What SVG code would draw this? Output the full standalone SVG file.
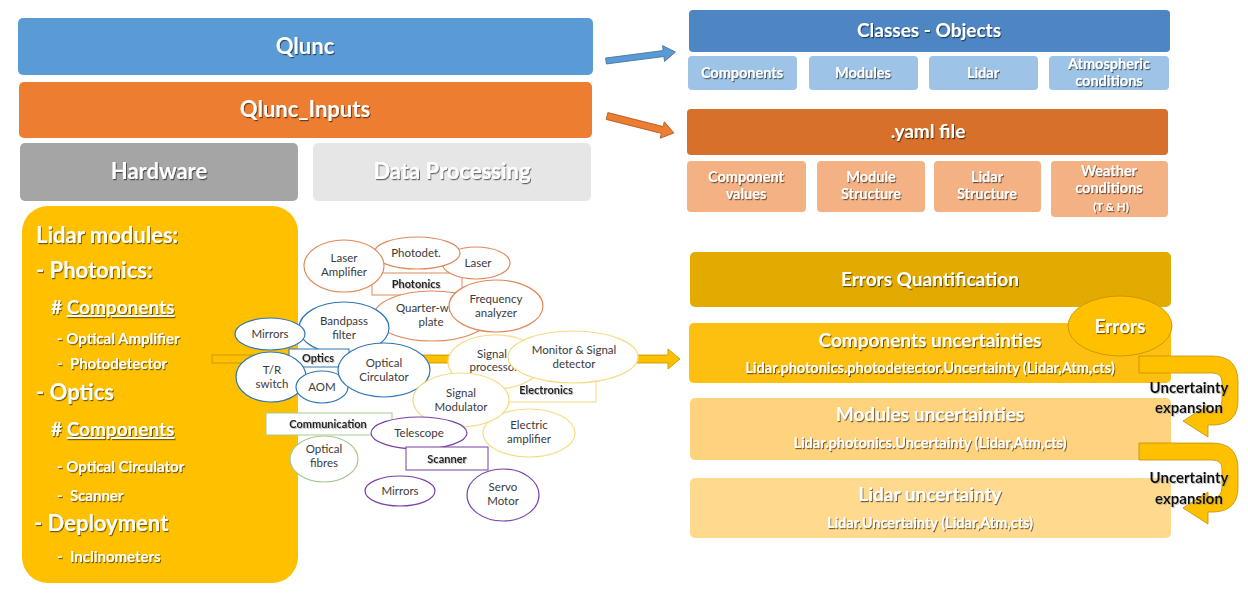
<svg xmlns="http://www.w3.org/2000/svg" width="1248" height="594" viewBox="0 0 1248 594">
  <defs>
    <filter id="ts" x="-10%" y="-30%" width="130%" height="170%">
      <feDropShadow dx="1" dy="1.2" stdDeviation="0.7" flood-color="#000" flood-opacity="0.55"/>
    </filter>
    <filter id="tsl" x="-10%" y="-30%" width="130%" height="170%">
      <feDropShadow dx="1" dy="1" stdDeviation="0.6" flood-color="#888" flood-opacity="0.5"/>
    </filter>
    <style>
      text { font-family: Lato, "Liberation Sans", sans-serif; }
      .w { fill: #fff; font-weight: 700; text-anchor: middle; filter: url(#ts); }
      .wl { fill: #fff; font-weight: 700; filter: url(#ts); }
      .big { font-size: 22px; }
      .h { font-size: 19px; }
      .s { font-size: 14.5px; }
      .m { font-size: 15px; }
      .lbl { fill: #3a3a3a; font-size: 11.5px; text-anchor: middle; }
      .grp { fill: #222; font-size: 11px; font-weight: 700; text-anchor: middle; filter: url(#tsl); }
      .el { fill: #fff; stroke-width: 1.2; }
      .ph { stroke: #E0895A; }
      .op { stroke: #2E75B6; }
      .ec { stroke: #F6DB84; }
      .cm { stroke: #A9C98E; }
      .sc { stroke: #7A3EA8; }
      .box { fill: #fff; stroke-width: 1; }
      .ux { fill: #111; font-size: 15px; font-weight: 700; text-anchor: middle; filter: url(#tsl); }
      .uturn { fill: #FFC000; stroke: #BF9000; stroke-width: 0.8; }
    </style>
  </defs>

  <rect width="1248" height="594" fill="#fff"/>

  <!-- left column banners -->
  <g id="qlunc">
    <rect x="18" y="18" width="575" height="57" rx="5" fill="#5B9BD5"/>
    <text class="w big" x="305" y="54">Qlunc</text>
  </g>
  <g id="qlunc-inputs">
    <rect x="19" y="82" width="573" height="56" rx="5" fill="#ED7D31"/>
    <text class="w big" x="305" y="117">Qlunc_Inputs</text>
  </g>
  <g id="hardware">
    <rect x="20" y="143" width="278" height="58" rx="5" fill="#A5A5A5"/>
    <text class="w big" x="159" y="179">Hardware</text>
  </g>
  <g id="data-processing">
    <rect x="313" y="143" width="278" height="58" rx="5" fill="#E7E6E6"/>
    <text class="w big" x="452" y="179">Data Processing</text>
  </g>

  <g id="lidar-modules">
    <rect x="22" y="206" width="276" height="377" rx="26" fill="#FFC000"/>
    <text class="wl big" x="36" y="243">Lidar modules:</text>
    <text class="wl big" x="36" y="278">- Photonics:</text>
    <text class="wl" x="51" y="314" font-size="19"># <tspan text-decoration="underline">Components</tspan></text>
    <text class="wl m" x="57" y="344">- Optical Amplifier</text>
    <text class="wl m" x="57" y="369" xml:space="preserve">-  Photodetector</text>
    <text class="wl big" x="36" y="400">- Optics</text>
    <text class="wl" x="51" y="436" font-size="19"># <tspan text-decoration="underline">Components</tspan></text>
    <text class="wl m" x="57" y="472">- Optical Circulator</text>
    <text class="wl m" x="57" y="501" xml:space="preserve">-  Scanner</text>
    <text class="wl big" x="34" y="531">- Deployment</text>
    <text class="wl m" x="57" y="562" xml:space="preserve">-  Inclinometers</text>
  </g>

  <!-- right column: classes and yaml -->
  <g id="classes-objects">
    <rect x="689" y="10" width="481" height="42" rx="4" fill="#4E86C3"/>
    <text class="w h" x="929" y="37">Classes - Objects</text>
  </g>
  <g id="cls-components">
    <rect x="688" y="56" width="109" height="34" rx="4" fill="#9DC3E6"/>
    <text class="w s" x="742" y="78">Components</text>
  </g>
  <g id="cls-modules">
    <rect x="809" y="56" width="109" height="34" rx="4" fill="#9DC3E6"/>
    <text class="w s" x="863" y="78">Modules</text>
  </g>
  <g id="cls-lidar">
    <rect x="929" y="56" width="109" height="34" rx="4" fill="#9DC3E6"/>
    <text class="w s" x="983" y="78">Lidar</text>
  </g>
  <g id="cls-atmospheric">
    <rect x="1049" y="56" width="120" height="34" rx="4" fill="#9DC3E6"/>
    <text class="w s" x="1109" y="69">Atmospheric</text>
    <text class="w s" x="1109" y="86">conditions</text>
  </g>

  <g id="yaml-file">
    <rect x="687" y="109" width="481" height="46" rx="4" fill="#D7702B"/>
    <text class="w h" x="928" y="138">.yaml file</text>
  </g>
  <g id="yaml-component-values">
    <rect x="687" y="161" width="119" height="51" rx="4" fill="#F4B183"/>
    <text class="w s" x="746" y="182">Component</text>
    <text class="w s" x="746" y="199">values</text>
  </g>
  <g id="yaml-module-structure">
    <rect x="817" y="161" width="108" height="51" rx="4" fill="#F4B183"/>
    <text class="w s" x="871" y="182">Module</text>
    <text class="w s" x="871" y="199">Structure</text>
  </g>
  <g id="yaml-lidar-structure">
    <rect x="934" y="161" width="107" height="51" rx="4" fill="#F4B183"/>
    <text class="w s" x="987" y="182">Lidar</text>
    <text class="w s" x="987" y="199">Structure</text>
  </g>
  <g id="yaml-weather">
    <rect x="1051" y="161" width="117" height="56" rx="4" fill="#F4B183"/>
    <text class="w s" x="1109" y="176">Weather</text>
    <text class="w s" x="1109" y="193">conditions</text>
    <text class="w" x="1111" y="211" font-size="11.5">(T &amp; H)</text>
  </g>

  <!-- right column: errors and uncertainties -->
  <g id="errors-quantification">
    <rect x="690" y="252" width="481" height="55" rx="5" fill="#E3AA00"/>
    <text class="w h" x="930" y="286">Errors Quantification</text>
  </g>
  <g id="components-uncertainties">
    <rect x="689" y="323" width="482" height="60" rx="5" fill="#FDBF10"/>
    <text class="w h" x="930" y="347">Components uncertainties</text>
    <text class="w s" x="930" y="373">Lidar.photonics.photodetector.Uncertainty (Lidar,Atm,cts)</text>
  </g>
  <g id="modules-uncertainties">
    <rect x="690" y="398" width="481" height="62" rx="5" fill="#FFD27D"/>
    <text class="w h" x="930" y="421">Modules uncertainties</text>
    <text class="w s" x="930" y="448">Lidar.photonics.Uncertainty (Lidar,Atm,cts)</text>
  </g>
  <g id="lidar-uncertainty">
    <rect x="690" y="478" width="481" height="60" rx="5" fill="#FFD98E"/>
    <text class="w h" x="930" y="501">Lidar uncertainty</text>
    <text class="w s" x="930" y="528">Lidar.Uncertainty (Lidar,Atm,cts)</text>
  </g>

  <!-- connectors -->
  <g id="connectors">
    <g transform="translate(606,61) rotate(-7.4)">
      <polygon points="0,-3 58,-3 58,-8 70,0 58,8 58,3 0,3" fill="#5B9BD5" stroke="#41719C" stroke-width="0.8"/>
    </g>
    <g transform="translate(607,116) rotate(14.2)">
      <polygon points="0,-3.5 57,-3.5 57,-8.5 69,0 57,8.5 57,3.5 0,3.5" fill="#ED7D31" stroke="#AE5A21" stroke-width="0.8"/>
    </g>
    <polygon points="212,355 668,355 668,349 680,359 668,369 668,363 212,363" fill="#FFC000" stroke="#BF9000" stroke-width="0.8"/>
    <path class="uturn" d="M1139,356 H1212 Q1238,356 1238,382 V400 Q1238,424 1214,425 H1208 V437 L1183,421 L1208,405 V411 H1213 Q1222,410 1222,400 V382 Q1222,373 1212,373 H1139 Z"/>
    <path class="uturn" d="M1139,443 H1212 Q1238,443 1238,469 V487 Q1238,511 1214,512 H1208 V524 L1183,508 L1208,492 V498 H1213 Q1222,497 1222,487 V469 Q1222,460 1212,460 H1139 Z"/>
    <text class="ux" x="1189" y="393">Uncertainty</text>
    <text class="ux" x="1189" y="413">expansion</text>
    <text class="ux" x="1189" y="483">Uncertainty</text>
    <text class="ux" x="1189" y="504">expansion</text>
  </g>

  <!-- photonics components -->
  <g id="photonics">
    <rect class="box ph" x="372" y="273" width="90" height="22"/>
    <text class="grp" x="416" y="288">Photonics</text>
  </g>
  <g id="laser">
    <ellipse class="el ph" cx="476" cy="263" rx="34" ry="16"/>
    <text class="lbl" x="478" y="267">Laser</text>
  </g>
  <g id="photodet">
    <ellipse class="el ph" cx="417" cy="253" rx="43" ry="16"/>
    <text class="lbl" x="416" y="257">Photodet.</text>
  </g>
  <g id="laser-amplifier">
    <ellipse class="el ph" cx="344" cy="266" rx="40" ry="26"/>
    <text class="lbl" x="344" y="262">Laser</text>
    <text class="lbl" x="344" y="276">Amplifier</text>
  </g>
  <g id="quarter-wave-plate">
    <ellipse class="el ph" cx="432" cy="316" rx="58" ry="25"/>
    <text class="lbl" x="431" y="312">Quarter-wave</text>
    <text class="lbl" x="431" y="326">plate</text>
  </g>
  <g id="frequency-analyzer">
    <ellipse class="el ph" cx="496" cy="306" rx="47" ry="26"/>
    <text class="lbl" x="496" y="303">Frequency</text>
    <text class="lbl" x="496" y="317">analyzer</text>
  </g>

  <!-- optics components -->
  <g id="bandpass-filter">
    <ellipse class="el op" cx="344" cy="328" rx="45" ry="26"/>
    <text class="lbl" x="344" y="325">Bandpass</text>
    <text class="lbl" x="344" y="339">filter</text>
  </g>
  <g id="optics">
    <rect class="box op" x="289" y="349" width="60" height="18"/>
    <text class="grp" x="318" y="362">Optics</text>
  </g>
  <g id="mirrors-optics">
    <ellipse class="el op" cx="270" cy="334" rx="35" ry="16"/>
    <text class="lbl" x="270" y="338">Mirrors</text>
  </g>
  <g id="tr-switch">
    <ellipse class="el op" cx="271" cy="377" rx="35" ry="25"/>
    <text class="lbl" x="272" y="374">T/R</text>
    <text class="lbl" x="272" y="388">switch</text>
  </g>
  <g id="aom">
    <ellipse class="el op" cx="322" cy="387" rx="26" ry="16"/>
    <text class="lbl" x="322" y="391">AOM</text>
  </g>
  <g id="optical-circulator">
    <ellipse class="el op" cx="384" cy="370" rx="46" ry="27"/>
    <text class="lbl" x="384" y="367">Optical</text>
    <text class="lbl" x="384" y="381">Circulator</text>
  </g>

  <!-- electronics components -->
  <g id="electronics">
    <rect class="box ec" x="478" y="377" width="118" height="25"/>
    <text class="grp" x="546" y="394">Electronics</text>
  </g>
  <g id="signal-processor">
    <ellipse class="el ec" cx="495" cy="362" rx="47" ry="27"/>
    <text class="lbl" x="492" y="358">Signal</text>
    <text class="lbl" x="494" y="371">processor</text>
  </g>
  <g id="monitor-signal-detector">
    <ellipse class="el ec" cx="573" cy="357" rx="65" ry="26"/>
    <text class="lbl" x="574" y="354">Monitor &amp; Signal</text>
    <text class="lbl" x="574" y="368">detector</text>
  </g>
  <g id="electric-amplifier">
    <ellipse class="el ec" cx="529" cy="433" rx="46" ry="24"/>
    <text class="lbl" x="529" y="429">Electric</text>
    <text class="lbl" x="529" y="443">amplifier</text>
  </g>
  <g id="signal-modulator">
    <ellipse class="el ec" cx="461" cy="400" rx="48" ry="27"/>
    <text class="lbl" x="461" y="397">Signal</text>
    <text class="lbl" x="461" y="411">Modulator</text>
  </g>

  <!-- communication components -->
  <g id="communication">
    <rect class="box cm" x="266" y="413" width="126" height="22"/>
    <text class="grp" x="328" y="428">Communication</text>
  </g>
  <g id="optical-fibres">
    <ellipse class="el cm" cx="324" cy="459" rx="34" ry="23"/>
    <text class="lbl" x="324" y="453">Optical</text>
    <text class="lbl" x="324" y="467">fibres</text>
  </g>

  <!-- scanner components -->
  <g id="telescope">
    <ellipse class="el sc" cx="419" cy="433" rx="48" ry="16"/>
    <text class="lbl" x="419" y="437">Telescope</text>
  </g>
  <g id="scanner">
    <rect class="box sc" x="406" y="447" width="82" height="23"/>
    <text class="grp" x="447" y="463">Scanner</text>
  </g>
  <g id="mirrors-scanner">
    <ellipse class="el sc" cx="400" cy="491" rx="35" ry="15"/>
    <text class="lbl" x="400" y="495">Mirrors</text>
  </g>
  <g id="servo-motor">
    <ellipse class="el sc" cx="503" cy="495" rx="36" ry="26"/>
    <text class="lbl" x="503" y="491">Servo</text>
    <text class="lbl" x="503" y="505">Motor</text>
  </g>

  <g id="errors">
    <ellipse cx="1120" cy="326" rx="52" ry="30" fill="#FFC000" stroke="#BF9000" stroke-width="0.8"/>
    <text class="w h" x="1120" y="333">Errors</text>
  </g>
</svg>
